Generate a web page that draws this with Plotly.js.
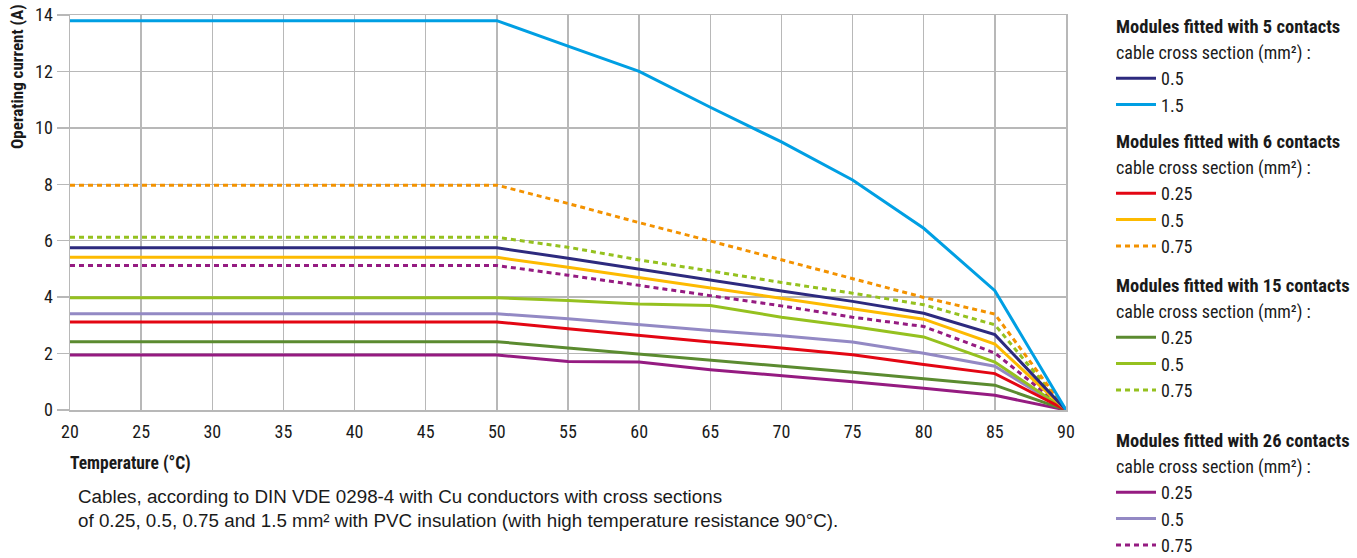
<!DOCTYPE html>
<html>
<head>
<meta charset="utf-8">
<script src="https://cdn.plot.ly/plotly-3.0.1.min.js"></script>
<style>html,body{margin:0;padding:0;background:#fff}#chart{width:1357px;height:558px}</style>
</head>
<body>
<div id="chart"></div>
<script>
// ---- data ----
const temperatures = [20, 50, 55, 60, 65, 70, 75, 80, 85, 90];

const c5_05   = [5.75, 5.75, 5.38, 4.99, 4.59, 4.22, 3.85, 3.43, 2.67, 0];
const c5_15   = [13.8, 13.8, 12.9, 12.0, 10.73, 9.5, 8.15, 6.44, 4.23, 0];

const c6_025  = [3.12, 3.12, 2.88, 2.64, 2.41, 2.20, 1.96, 1.61, 1.29, 0];
const c6_05   = [5.41, 5.41, 5.06, 4.69, 4.32, 3.96, 3.59, 3.22, 2.34, 0];
const c6_075  = [7.97, 7.97, 7.32, 6.64, 5.99, 5.32, 4.64, 3.99, 3.40, 0];

const c15_025 = [2.42, 2.42, 2.20, 1.99, 1.78, 1.57, 1.34, 1.11, 0.88, 0];
const c15_05  = [3.98, 3.98, 3.88, 3.76, 3.70, 3.29, 2.96, 2.59, 1.70, 0];
const c15_075 = [6.12, 6.12, 5.77, 5.32, 4.93, 4.52, 4.14, 3.73, 3.02, 0];

const c26_025 = [1.95, 1.95, 1.72, 1.70, 1.43, 1.22, 1.00, 0.77, 0.52, 0];
const c26_05  = [3.41, 3.41, 3.23, 3.02, 2.82, 2.63, 2.41, 2.01, 1.55, 0];
const c26_075 = [5.12, 5.12, 4.78, 4.41, 4.05, 3.69, 3.29, 2.96, 2.02, 0];

const xTicks = [20, 25, 30, 35, 40, 45, 50, 55, 60, 65, 70, 75, 80, 85, 90];
const yTicks = [0, 2, 4, 6, 8, 10, 12, 14];

const groupTitles = [
  "Modules fitted with 5 contacts",
  "Modules fitted with 6 contacts",
  "Modules fitted with 15 contacts",
  "Modules fitted with 26 contacts"
];
const subTitle = "cable cross section (mm²) :";
const xTitle = "Temperature (°C)";
const yTitle = "Operating current (A)";
const footnote = "Cables, according to DIN VDE 0298-4 with Cu conductors with cross sections<br>of 0.25, 0.5, 0.75 and 1.5 mm² with PVC insulation (with high temperature resistance 90°C).";

// ---- layout helpers ----
const W = 1357, H = 558;
const M = {l: 70, r: 291, t: 15, b: 147.5};
const PW = W - M.l - M.r, PH = H - M.t - M.b;
const px = x => (x - M.l) / PW;
const py = y => (H - M.b - y) / PH;
const cy = y => 1 - y / H;

const COND = '"Roboto Condensed", "DejaVu Sans Condensed", sans-serif';
const INK = '#1a1a1a';
const DASH = '5px,4px';

function tr(y, name, color, legend, dash) {
  return {
    x: temperatures, y: y, name: name, type: 'scatter', mode: 'lines',
    line: {color: color, width: 3, dash: dash || 'solid'},
    legend: legend, hoverinfo: 'skip'
  };
}

const data = [
  tr(c26_025, '0.25', '#951b81', 'legend4'),
  tr(c26_05,  '0.5',  '#9389c4', 'legend4'),
  tr(c26_075, '0.75', '#951b81', 'legend4', DASH),
  tr(c15_025, '0.25', '#5b8b30', 'legend3'),
  tr(c15_05,  '0.5',  '#95c11f', 'legend3'),
  tr(c15_075, '0.75', '#95c11f', 'legend3', DASH),
  tr(c6_025,  '0.25', '#e30613', 'legend2'),
  tr(c6_05,   '0.5',  '#fdba00', 'legend2'),
  tr(c6_075,  '0.75', '#f39200', 'legend2', DASH),
  tr(c5_05,   '0.5',  '#2d2a7e', 'legend'),
  tr(c5_15,   '1.5',  '#009fe3', 'legend')
];

function leg(topPx) {
  return {
    xref: 'container', yref: 'container', x: 1111 / W, y: cy(topPx),
    xanchor: 'left', yanchor: 'top', traceorder: 'normal',
    bgcolor: 'rgba(0,0,0,0)', borderwidth: 0, tracegroupgap: 0, itemwidth: 40,
    font: {family: COND, size: 18, color: INK}
  };
}

const headerCenters = [27, 142, 286, 442];
const annotations = [];
headerCenters.forEach((c, i) => {
  annotations.push({
    xref: 'paper', yref: 'paper', x: px(1114), y: py(c), xanchor: 'left', yanchor: 'middle',
    text: '<b>' + groupTitles[i] + '</b>', showarrow: false,
    font: {family: COND, size: 18.5, color: INK}
  });
  annotations.push({
    xref: 'paper', yref: 'paper', x: px(1114), y: py(c + 26), xanchor: 'left', yanchor: 'middle',
    text: subTitle, showarrow: false,
    font: {family: COND, size: 18, color: INK}
  });
});
annotations.push({
  xref: 'paper', yref: 'paper', x: px(17), y: py(77), xanchor: 'center', yanchor: 'middle',
  text: '<b>' + yTitle + '</b>', textangle: -90, showarrow: false,
  font: {family: COND, size: 17, color: INK}
});
annotations.push({
  xref: 'paper', yref: 'paper', x: px(68), y: py(464), xanchor: 'left', yanchor: 'middle',
  text: '<b>' + xTitle + '</b>', showarrow: false,
  font: {family: COND, size: 17.5, color: INK}
});
annotations.push({
  xref: 'paper', yref: 'paper', x: px(76), y: py(509), xanchor: 'left', yanchor: 'middle', align: 'left',
  text: footnote, showarrow: false,
  font: {family: '"Liberation Sans", Arial, sans-serif', size: 18.8, color: INK}
});

const layout = {
  width: W, height: H,
  margin: {l: M.l, r: M.r, t: M.t, b: M.b, pad: 0},
  paper_bgcolor: '#fff', plot_bgcolor: '#fff',
  font: {family: COND, size: 18, color: INK},
  showlegend: true,
  xaxis: {
    range: [20, 90], tickmode: 'array', tickvals: xTicks, ticktext: xTicks.map(String),
    showgrid: true, gridcolor: '#b8b8b8', gridwidth: 1.5,
    showline: true, linecolor: '#b8b8b8', linewidth: 1.5, mirror: true,
    zeroline: false, ticks: '', ticklabelstandoff: 5,
    tickfont: {family: COND, size: 18, color: INK}, fixedrange: true
  },
  yaxis: {
    range: [0, 14], tickmode: 'array', tickvals: yTicks, ticktext: yTicks.map(String),
    showgrid: true, gridcolor: '#b8b8b8', gridwidth: 1.5,
    showline: true, linecolor: '#b8b8b8', linewidth: 1.5, mirror: true,
    zeroline: false, ticks: 'outside', ticklen: 12, tickwidth: 1.5, tickcolor: '#b8b8b8',
    tickfont: {family: COND, size: 18, color: INK}, fixedrange: true
  },
  legend: leg(60),
  legend2: leg(175),
  legend3: leg(319),
  legend4: leg(474),
  annotations: annotations
};

Plotly.newPlot('chart', data, layout, {displayModeBar: false, staticPlot: true});
</script>
</body>
</html>
